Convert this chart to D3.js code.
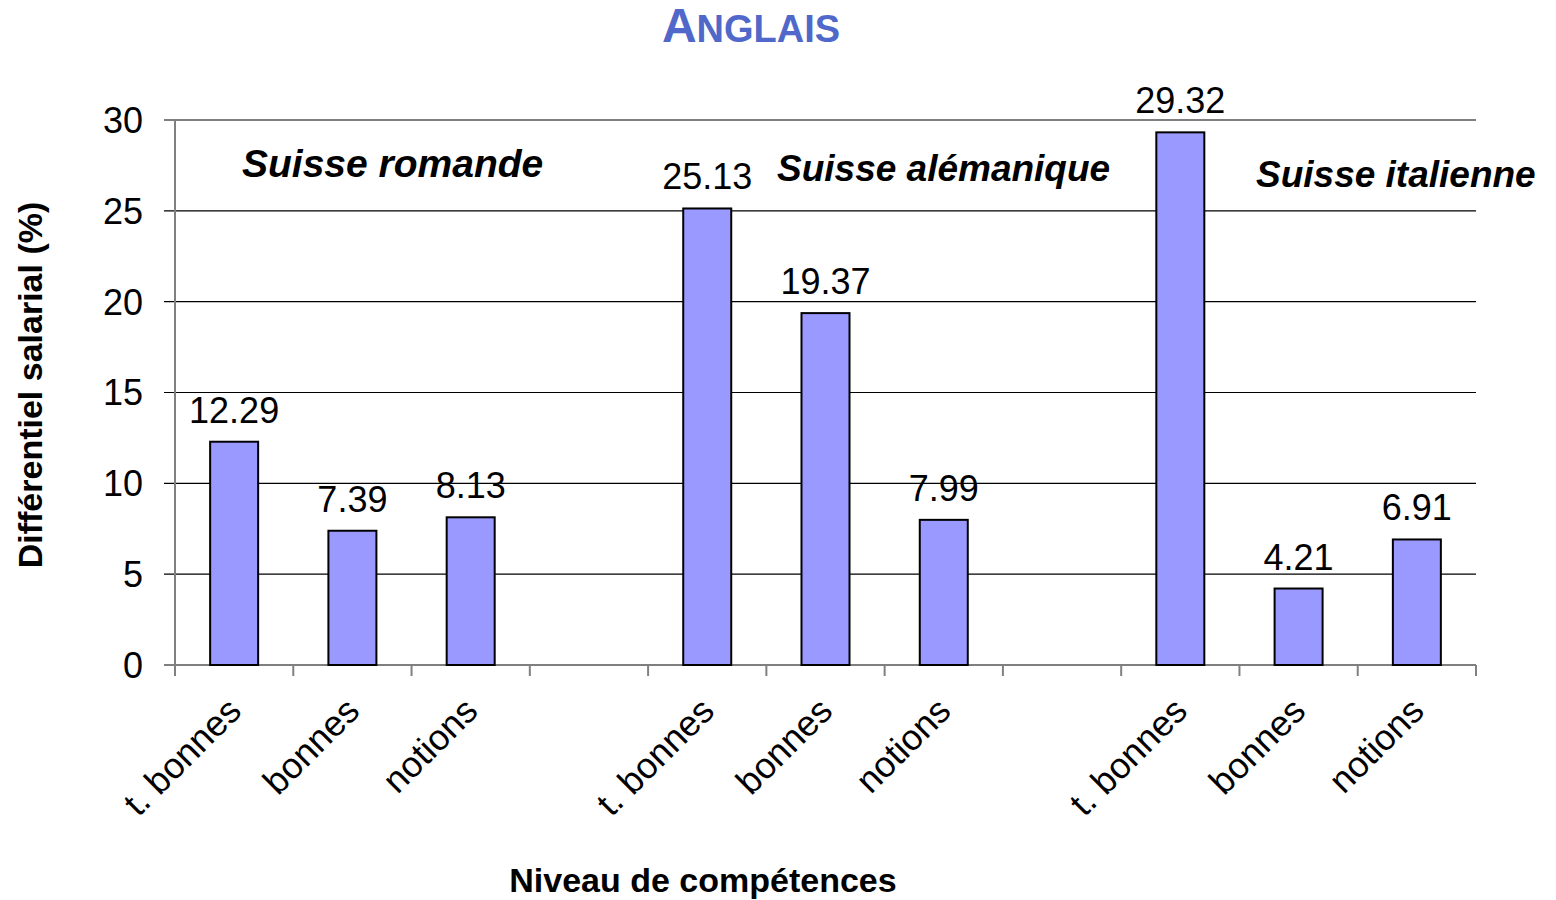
<!DOCTYPE html>
<html>
<head>
<meta charset="utf-8">
<script src="https://cdn.jsdelivr.net/npm/d3@7/dist/d3.min.js"></script>
<style>
  body { margin: 0; background: #fff; }
  svg text { font-family: Arial, "Liberation Sans", Helvetica, sans-serif; }
</style>
</head>
<body>
<div class="chart"></div>
<script>
// categories along x (empty slots separate the regions)
const categories = ["t. bonnes", "bonnes", "notions", "", "t. bonnes", "bonnes", "notions", "", "t. bonnes", "bonnes", "notions"];
const values = [12.29, 7.39, 8.13, null, 25.13, 19.37, 7.99, null, 29.32, 4.21, 6.91];
const regions = ["Suisse romande", "Suisse alémanique", "Suisse italienne"];
const yTicks = [0, 5, 10, 15, 20, 25, 30];

const margin = {top: 120, right: 80, bottom: 235, left: 175},
    width = 1556 - margin.left - margin.right,
    height = 900 - margin.top - margin.bottom;

const svg = d3.select(".chart")
  .append("svg")
    .attr("width", 1556)
    .attr("height", 900);

const g = svg.append("g")
    .attr("transform", `translate(${margin.left},${margin.top})`);

const x = d3.scaleBand()
  .domain(d3.range(categories.length))
  .range([0, width]);

const y = d3.scaleLinear()
  .domain([0, 30])
  .range([height, 0]);

// gridlines
g.selectAll(".grid")
  .data(yTicks)
  .join("line")
    .attr("x1", -11)
    .attr("x2", width)
    .attr("y1", d => y(d))
    .attr("y2", d => y(d))
    .attr("stroke", "#000")
    .attr("stroke-width", 1.2);

// y axis
g.append("line")
  .attr("x1", 0).attr("x2", 0)
  .attr("y1", 0).attr("y2", height + 11)
  .attr("stroke", "#808080")
  .attr("stroke-width", 2);

g.selectAll(".ylab")
  .data(yTicks)
  .join("text")
    .attr("x", -32)
    .attr("y", d => y(d))
    .attr("dy", "0.36em")
    .attr("text-anchor", "end")
    .style("font-size", "36px")
    .text(d => d);

// x axis ticks at band boundaries
const bounds = d3.range(categories.length + 1);
g.selectAll(".xtick")
  .data(bounds)
  .join("line")
    .attr("x1", d => d * x.bandwidth())
    .attr("x2", d => d * x.bandwidth())
    .attr("y1", height)
    .attr("y2", height + 11)
    .attr("stroke", "#808080")
    .attr("stroke-width", 2);

// bars
const barW = 48;
const data = values.map((v, i) => ({i: i, v: v})).filter(d => d.v !== null);

g.selectAll(".bar")
  .data(data)
  .join("rect")
    .attr("x", d => x(d.i) + x.bandwidth() / 2 - barW / 2)
    .attr("y", d => y(d.v))
    .attr("width", barW)
    .attr("height", d => height - y(d.v))
    .attr("fill", "#9999FF")
    .attr("stroke", "#000")
    .attr("stroke-width", 2);

g.selectAll(".val")
  .data(data)
  .join("text")
    .attr("x", d => x(d.i) + x.bandwidth() / 2)
    .attr("y", d => y(d.v) - 19)
    .attr("text-anchor", "middle")
    .style("font-size", "36px")
    .text(d => d.v.toFixed(2));

// x labels, rotated
g.selectAll(".xlab")
  .data(categories.map((c, i) => ({c: c, i: i})).filter(d => d.c !== ""))
  .join("text")
    .attr("transform", d => `translate(${x(d.i) + x.bandwidth() / 2 + 9},${height + 48}) rotate(-45)`)
    .attr("text-anchor", "end")
    .style("font-size", "36px")
    .text(d => d.c);

// region labels
const regionPos = [[242, 177], [777, 181], [1256, 187]];
const regionSize = [39, 37, 37];
svg.selectAll(".region")
  .data(regions)
  .join("text")
    .attr("x", (d, i) => regionPos[i][0])
    .attr("y", (d, i) => regionPos[i][1])
    .style("font-size", (d, i) => regionSize[i] + "px")
    .style("font-weight", "bold")
    .style("font-style", "italic")
    .text(d => d);

// title in small caps
const title = svg.append("text")
  .attr("x", 751)
  .attr("y", 42)
  .attr("text-anchor", "middle")
  .attr("fill", "#4F68C9")
  .style("font-weight", "bold");
title.append("tspan").style("font-size", "48px").text("A");
title.append("tspan").style("font-size", "38px").text("NGLAIS");

// axis titles
svg.append("text")
  .attr("transform", "translate(42,385) rotate(-90)")
  .attr("text-anchor", "middle")
  .style("font-size", "34px")
  .style("font-weight", "bold")
  .text("Différentiel salarial (%)");

svg.append("text")
  .attr("x", 703)
  .attr("y", 892)
  .attr("text-anchor", "middle")
  .style("font-size", "34px")
  .style("font-weight", "bold")
  .text("Niveau de compétences");
</script>
</body>
</html>
